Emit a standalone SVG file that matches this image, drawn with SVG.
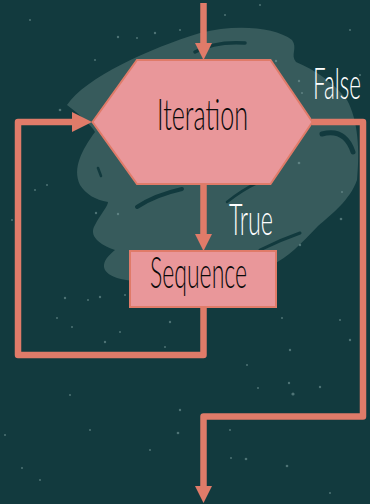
<svg xmlns="http://www.w3.org/2000/svg" width="370" height="504" viewBox="0 0 370 504">
  <defs>
    <style>
      .bg { fill: #123a3e; }
      .blob { fill: #375b5c; }
      .gap { fill: none; stroke: #123a3e; stroke-linecap: round; }
      .star { fill: #7fa3a2; opacity: 0.55; }
      .node { fill: #e9979a; stroke: #e07b69; stroke-width: 2; }
      .wire { fill: none; stroke: #e07b69; stroke-width: 6.5; stroke-linejoin: round; }
      .head { fill: #e07b69; }
      .dark { font-family: "Lato", "Roboto", "Liberation Sans", sans-serif; font-weight: 300; font-size: 27px; fill: #0a0a0a; }
      .light { font-family: "Lato", "Roboto", "Liberation Sans", sans-serif; font-weight: 300; font-size: 27px; fill: #ffffff; }
    </style>
  </defs>

  <rect class="bg" x="0" y="0" width="370" height="504"/>

  <g id="background-scribble">
    <path class="blob" d="M67,105 C85,78 150,48 200,33 C235,24 275,27 292,40 C298,48 290,55 296,62 C315,70 333,82 347,100 C358,120 360,150 357,180 C350,200 332,214 318,226 C300,245 288,257 272,265 L200,276 C160,281 132,283 117,278 C100,272 100,262 115,250 C100,245 88,236 95,225 C100,215 108,206 108,202 C95,200 86,194 80,185 C72,168 82,150 95,132 C92,126 80,115 67,105 Z"/>
    <path class="gap" stroke-width="3.5" d="M195,52 Q215,41 245,43"/>
    <path class="gap" stroke-width="4" d="M137,207 Q155,195 182,189"/>
    <path class="gap" stroke-width="2.5" d="M98,168 L101,176"/>
    <path class="gap" stroke-width="2.5" d="M227,202 Q242,190 257,183"/>
    <path class="gap" stroke-width="5" d="M322,134 Q345,128 353,152"/>
    <path class="gap" stroke-width="3" d="M260,250 Q280,240 300,233"/>
  </g>

  <g id="stars">
    <circle class="star" cx="118" cy="37" r="1.2"/>
    <circle class="star" cx="137" cy="38" r="1"/>
    <circle class="star" cx="155" cy="33" r="1.2"/>
    <circle class="star" cx="180" cy="30" r="1"/>
    <circle class="star" cx="95" cy="60" r="1"/>
    <circle class="star" cx="60" cy="110" r="1.3"/>
    <circle class="star" cx="47" cy="185" r="1"/>
    <circle class="star" cx="35" cy="190" r="1"/>
    <circle class="star" cx="65" cy="298" r="1.2"/>
    <circle class="star" cx="88" cy="300" r="1"/>
    <circle class="star" cx="100" cy="297" r="1.2"/>
    <circle class="star" cx="57" cy="318" r="1"/>
    <circle class="star" cx="72" cy="327" r="1"/>
    <circle class="star" cx="105" cy="342" r="1.2"/>
    <circle class="star" cx="120" cy="332" r="1"/>
    <circle class="star" cx="165" cy="347" r="1"/>
    <circle class="star" cx="170" cy="322" r="1.2"/>
    <circle class="star" cx="282" cy="318" r="1"/>
    <circle class="star" cx="290" cy="350" r="1.2"/>
    <circle class="star" cx="340" cy="320" r="1"/>
    <circle class="star" cx="350" cy="340" r="1.2"/>
    <circle class="star" cx="247" cy="365" r="1"/>
    <circle class="star" cx="258" cy="388" r="1"/>
    <circle class="star" cx="289" cy="383" r="1.2"/>
    <circle class="star" cx="293" cy="394" r="1.6"/>
    <circle class="star" cx="320" cy="387" r="1.2"/>
    <circle class="star" cx="180" cy="410" r="1.2"/>
    <circle class="star" cx="230" cy="430" r="1"/>
    <circle class="star" cx="246" cy="459" r="1.3"/>
    <circle class="star" cx="287" cy="466" r="1.3"/>
    <circle class="star" cx="231" cy="458" r="1"/>
    <circle class="star" cx="330" cy="493" r="1"/>
    <circle class="star" cx="5" cy="435" r="1"/>
    <circle class="star" cx="22" cy="468" r="1"/>
    <circle class="star" cx="40" cy="480" r="1"/>
    <circle class="star" cx="70" cy="395" r="1"/>
    <circle class="star" cx="150" cy="450" r="1"/>
    <circle class="star" cx="178" cy="433" r="1.3"/>
    <circle class="star" cx="90" cy="430" r="1"/>
    <circle class="star" cx="300" cy="245" r="1.2"/>
    <circle class="star" cx="341" cy="219" r="1.3"/>
    <circle class="star" cx="342" cy="192" r="1"/>
    <circle class="star" cx="299" cy="163" r="1.3"/>
    <circle class="star" cx="299" cy="81" r="1.2"/>
    <circle class="star" cx="302" cy="93" r="1"/>
    <circle class="star" cx="276" cy="61" r="1.2"/>
    <circle class="star" cx="30" cy="20" r="1"/>
    <circle class="star" cx="225" cy="15" r="1"/>
    <circle class="star" cx="260" cy="5" r="1"/>
    <circle class="star" cx="350" cy="30" r="1"/>
    <circle class="star" cx="360" cy="75" r="1"/>
    <circle class="star" cx="125" cy="295" r="1"/>
    <circle class="star" cx="118" cy="214" r="1.2"/>
    <circle class="star" cx="96" cy="213" r="1.2"/>
    <circle class="star" cx="20" cy="300" r="1"/>
    <circle class="star" cx="12" cy="220" r="1"/>
  </g>

  <g id="connectors">
    <line class="wire" x1="203.5" y1="3" x2="203.5" y2="44"/>
    <polygon class="head" points="195,43 212,43 203.5,60"/>
    <line class="wire" x1="203.5" y1="184" x2="203.5" y2="235"/>
    <polygon class="head" points="195,234 212,234 203.5,251"/>
    <path class="wire" d="M203.5,308 V355 H18 V122 H74"/>
    <polygon class="head" points="72,112 72,132 92,122"/>
    <path class="wire" d="M312,122 H363 V416.5 H203.5 V488"/>
    <polygon class="head" points="195,486 212,486 203.5,503"/>
  </g>

  <g id="iteration">
    <polygon class="node" points="92.5,122 137,60 270.5,60 312.5,122 270.5,184 137,184"/>
    <text class="dark" transform="translate(202.5,130) scale(1,1.6)" x="0" y="0" text-anchor="middle" textLength="91" lengthAdjust="spacingAndGlyphs">Iteration</text>
  </g>

  <g id="sequence">
    <rect class="node" x="130" y="251" width="146" height="56"/>
    <text class="dark" transform="translate(198.5,288) scale(1,1.6)" x="0" y="0" text-anchor="middle" textLength="97" lengthAdjust="spacingAndGlyphs">Sequence</text>
  </g>

  <g id="labels">
    <text class="light" transform="translate(251,235) scale(1,1.6)" x="0" y="0" text-anchor="middle" textLength="44" lengthAdjust="spacingAndGlyphs">True</text>
    <text class="light" transform="translate(337,99) scale(1,1.6)" x="0" y="0" text-anchor="middle" textLength="48" lengthAdjust="spacingAndGlyphs">False</text>
  </g>
</svg>
